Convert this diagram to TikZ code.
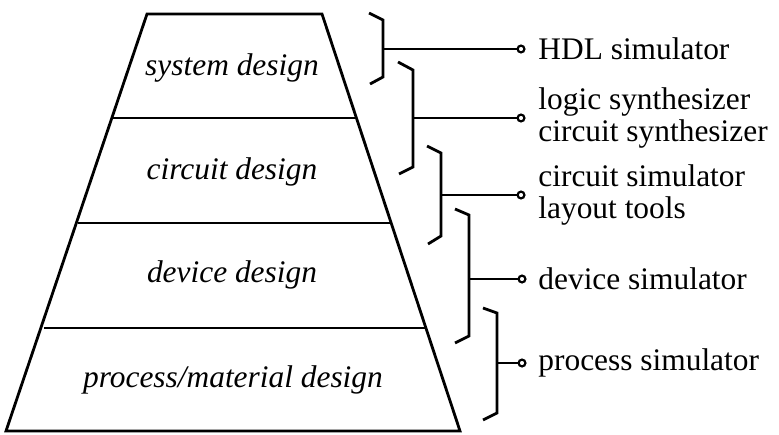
\documentclass[tikz,border=0pt]{standalone}
\usepackage{fontspec}
\setmainfont{Liberation Serif}

\begin{document}
\begin{tikzpicture}[x=0.5pt, y=-0.5pt, line width=1.4pt,
  font=\fontsize{15.7}{16}\selectfont,
  layer/.style={font=\fontsize{15.7}{16}\selectfont\itshape},
  tool/.style={anchor=west, align=left, inner sep=0pt},
  pin/.style={circle, draw, line width=1.1pt, fill=white, inner sep=0pt, minimum size=3.4pt}]
  \useasboundingbox (0,0) rectangle (779,434);
  % pyramid of design levels
  \draw (147,14) -- (322,14) -- (460,431) -- (6,431) -- cycle;
  \draw (113,118) -- (356,118);
  \draw (78,223) -- (391,223);
  \draw (44,328) -- (426,328);
  % level names
  \node[layer] (sys) at (232,68) {system design};
  \node[layer] (cir) at (232,172) {circuit design};
  \node[layer] (dev) at (232,275) {device design};
  \node[layer] (pro) at (233,380) {process/material design};
  % brackets
  \draw (369,13) -- (383,20) -- (383,77) -- (370,84);
  \draw (398,62) -- (413,70) -- (413,167) -- (399,174);
  \draw (427,146) -- (441,153) -- (441,236) -- (428,244);
  \draw (455,209) -- (469,215) -- (469,336) -- (455,343);
  \draw (483,308) -- (497,313) -- (497,413) -- (483,420);
  \coordinate (b1) at (383,49);
  \coordinate (b2) at (413,118);
  \coordinate (b3) at (441,195);
  \coordinate (b4) at (469,279);
  \coordinate (b5) at (497,363);
  % tool pins and labels
  \node[pin] (p1) at (521,49) {};
  \node[pin] (p2) at (521,118) {};
  \node[pin] (p3) at (521,195) {};
  \node[pin] (p4) at (522,279) {};
  \node[pin] (p5) at (522,363) {};
  \draw (b1) -- (p1.west);
  \draw (b2) -- (p2.west);
  \draw (b3) -- (p3.west);
  \draw (b4) -- (p4.west);
  \draw (b5) -- (p5.west);
  \node[tool] (hdl) at (537,49) {HDL simulator};
  \node[tool] (syn) at (537,118) {logic synthesizer\\circuit synthesizer};
  \node[tool] (lay) at (537,195) {circuit simulator\\layout tools};
  \node[tool] (dsim) at (537,279) {device simulator};
  \node[tool] (psim) at (537,363) {process simulator};
\end{tikzpicture}
\end{document}
